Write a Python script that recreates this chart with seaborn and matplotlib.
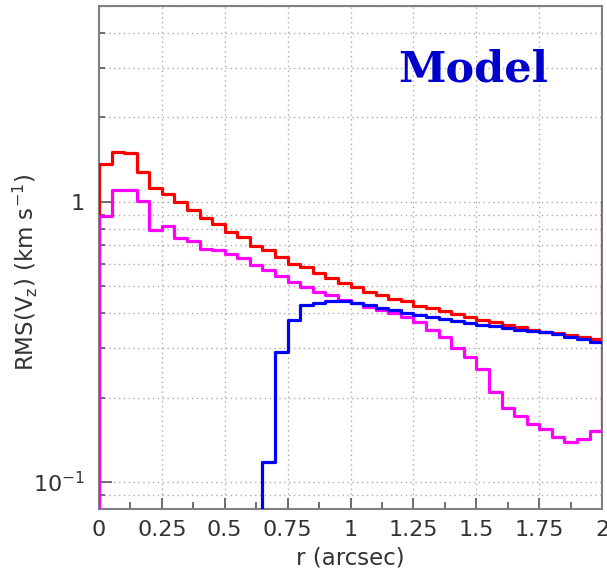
import numpy as np
import pandas as pd
import matplotlib
matplotlib.use("Agg")
import matplotlib.pyplot as plt
import matplotlib.ticker as mticker
import seaborn as sns

# bin edges: 40 bins of 0.05 arcsec from 0 to 2
bin_width = 0.05
n_bins = 40

# RMS(Vz) per bin
rms_red = [1.36, 1.50, 1.49, 1.28, 1.12, 1.065, 0.994, 0.936, 0.875, 0.833,
           0.779, 0.746, 0.697, 0.670, 0.633, 0.600, 0.583, 0.556, 0.534, 0.512,
           0.498, 0.478, 0.466, 0.449, 0.441, 0.425, 0.417, 0.406, 0.397, 0.387,
           0.379, 0.372, 0.364, 0.357, 0.349, 0.344, 0.340, 0.335, 0.329, 0.324]
rms_magenta = [0.89, 1.10, 1.10, 1.01, 0.79, 0.816, 0.742, 0.722, 0.679, 0.670,
               0.652, 0.629, 0.596, 0.572, 0.545, 0.519, 0.498, 0.478, 0.466, 0.447,
               0.434, 0.422, 0.412, 0.401, 0.389, 0.373, 0.350, 0.328, 0.300, 0.280,
               0.253, 0.209, 0.183, 0.172, 0.161, 0.154, 0.145, 0.139, 0.143, 0.152]
rms_blue = [0, 0, 0, 0, 0, 0, 0, 0, 0, 0, 0, 0, 0,
            0.118, 0.292, 0.377, 0.429, 0.437, 0.444, 0.441, 0.434, 0.429, 0.417,
            0.412, 0.401, 0.395, 0.389, 0.382, 0.376, 0.369, 0.364, 0.359, 0.354,
            0.349, 0.346, 0.342, 0.338, 0.330, 0.323, 0.316]
# value the magenta outline climbs to at the right edge (overflow)
magenta_right_edge = 1.0

x_ticks = [0, 0.25, 0.5, 0.75, 1, 1.25, 1.5, 1.75, 2]
x_tick_labels = ["0", "0.25", "0.5", "0.75", "1", "1.25", "1.5", "1.75", "2"]
y_ticks = [0.1, 1]
y_tick_labels = ["$10^{-1}$", "1"]

sns.set_style("ticks")
plt.rcParams["font.family"] = ["DejaVu Sans"]
plt.rcParams["mathtext.fontset"] = "dejavusans"

edges = np.arange(n_bins + 1) * bin_width


def outline(values, last, start=None):
    # points for a steps-post histogram outline
    xs = list(edges)
    ys = list(values) + [last]
    if start is not None:
        xs = [0.0] + xs
        ys = [start] + ys
    return pd.DataFrame({"r": xs, "rms": ys})


df_red = outline(rms_red, rms_red[-1], start=0)
df_mag = outline(rms_magenta, magenta_right_edge, start=0)
df_blue = outline(rms_blue, rms_blue[-1])

fig = plt.figure(figsize=(6.07, 5.78), dpi=100)
ax = fig.add_axes([0.163, 0.119, 0.829, 0.871])

for df, col in [(df_red, "#ff0000"), (df_mag, "#ff00ff"), (df_blue, "#0000ff")]:
    sns.lineplot(data=df, x="r", y="rms", ax=ax, color=col, lw=2.3,
                 drawstyle="steps-post", estimator=None, sort=False, zorder=3)

ax.set_yscale("log")
ax.set_xlim(0, 2)
ax.set_ylim(0.08, 5)

ax.xaxis.set_major_locator(mticker.FixedLocator(x_ticks))
ax.xaxis.set_major_formatter(mticker.FixedFormatter(x_tick_labels))
ax.xaxis.set_minor_locator(mticker.MultipleLocator(0.125))
ax.yaxis.set_major_locator(mticker.FixedLocator(y_ticks))
ax.yaxis.set_major_formatter(mticker.FixedFormatter(y_tick_labels))
ax.yaxis.set_minor_locator(mticker.LogLocator(base=10, subs=np.arange(2, 10)))
ax.yaxis.set_minor_formatter(mticker.NullFormatter())

ax.tick_params(axis="both", which="both", direction="in", colors="#555555",
               labelcolor="#333333", labelsize=16)
ax.tick_params(axis="x", which="major", length=8, width=1.2, pad=8)
ax.tick_params(axis="x", which="minor", length=5, width=1.2)
ax.tick_params(axis="y", which="major", length=9, width=1.2, pad=10)
ax.tick_params(axis="y", which="minor", length=4.5, width=1.2)

ax.grid(True, axis="x", which="major", color="#aaaaaa", ls=(0, (1, 2.5)), lw=1)
ax.grid(True, axis="y", which="both", color="#aaaaaa", ls=(0, (1, 2.5)), lw=1)
ax.set_axisbelow(True)

for sp in ax.spines.values():
    sp.set_color("#808080")
    sp.set_linewidth(1.5)
    sp.set_visible(True)

ax.set_xlabel("r (arcsec)", fontsize=16.5, color="#333333")
ax.set_ylabel("RMS(V$_{\\rm z}$) (km s$^{-1}$)", fontsize=16.5, color="#333333")
ax.xaxis.set_label_coords(0.5, -0.075)
ax.yaxis.set_label_coords(-0.118, 0.47)

ax.text(0.594, 0.849, "Model", transform=ax.transAxes, family="DejaVu Serif",
        fontweight="bold", fontsize=31, color="#0000cc", va="baseline", ha="left")

fig.savefig("out.png", dpi=100)
